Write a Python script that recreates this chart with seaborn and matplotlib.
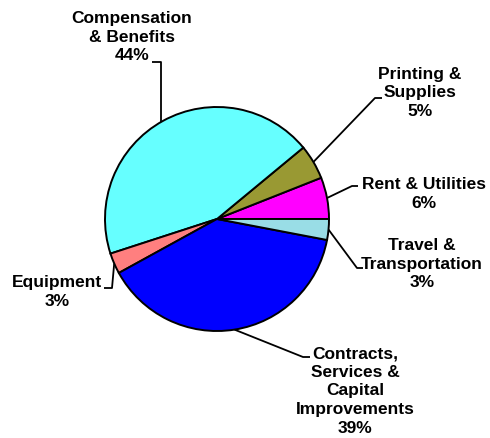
import numpy as np
import matplotlib
matplotlib.use("Agg")
import matplotlib.pyplot as plt
import seaborn as sns

categories = ["Rent & Utilities", "Printing &\nSupplies", "Compensation\n& Benefits",
              "Equipment", "Contracts,\nServices &\nCapital\nImprovements", "Travel &\nTransportation"]
values = [6, 5, 44, 3, 39, 3]
colors = ["#FF00FF", "#999933", "#66FFFF", "#FF7F7F", "#0000FF", "#99DDE6"]

sns.set_theme(style="white")
plt.rcParams["font.family"] = ["Liberation Sans", "DejaVu Sans"]

W, H = 490, 438
CX, CY, R = 217, 219, 112

def d(px, py):
    return ((px - CX) / R, (CY - py) / R)

fig = plt.figure(figsize=(W / 100, H / 100), dpi=100)
ax = fig.add_axes([0, 0, 1, 1])
wedges, _ = ax.pie(values, colors=colors, startangle=0, counterclock=True,
                   wedgeprops=dict(edgecolor="black", linewidth=1.4))
ax.set_xlim(-CX / R, (W - CX) / R)
ax.set_ylim((CY - H) / R, CY / R)
ax.set_aspect("auto")
ax.axis("off")

# layout: (pie angle for leader start, elbow point, end point, text center)
layout = [
    (None, (352, 186), (358, 186), (424, 194)),
    (None, (375, 98), (382, 98), (420, 93)),
    (120.0, (161, 62), (152, 62), (132, 37)),
    (None, (112, 288), (104, 288), (57, 292)),
    (None, (303, 357), (310, 357), (355, 391)),
    (None, (357, 268), (363, 268), (422, 264)),
]

for w, v, cat, (ang, elbow, end, tc) in zip(wedges, values, categories, layout):
    a = ang if ang is not None else (w.theta1 + w.theta2) / 2
    sx, sy = np.cos(np.radians(a)), np.sin(np.radians(a))
    ex, ey = d(*elbow)
    fx, fy = d(*end)
    ax.plot([sx, ex, fx], [sy, ey, fy], color="black", lw=1.3, solid_capstyle="butt", zorder=1)
    tx, ty = d(*tc)
    ax.text(tx, ty, f"{cat}\n{v}%", ha="center", va="center", multialignment="center",
            fontsize=12.5, fontweight="bold", color="black", linespacing=1.3)

fig.savefig("out.png", dpi=100, facecolor="white")
